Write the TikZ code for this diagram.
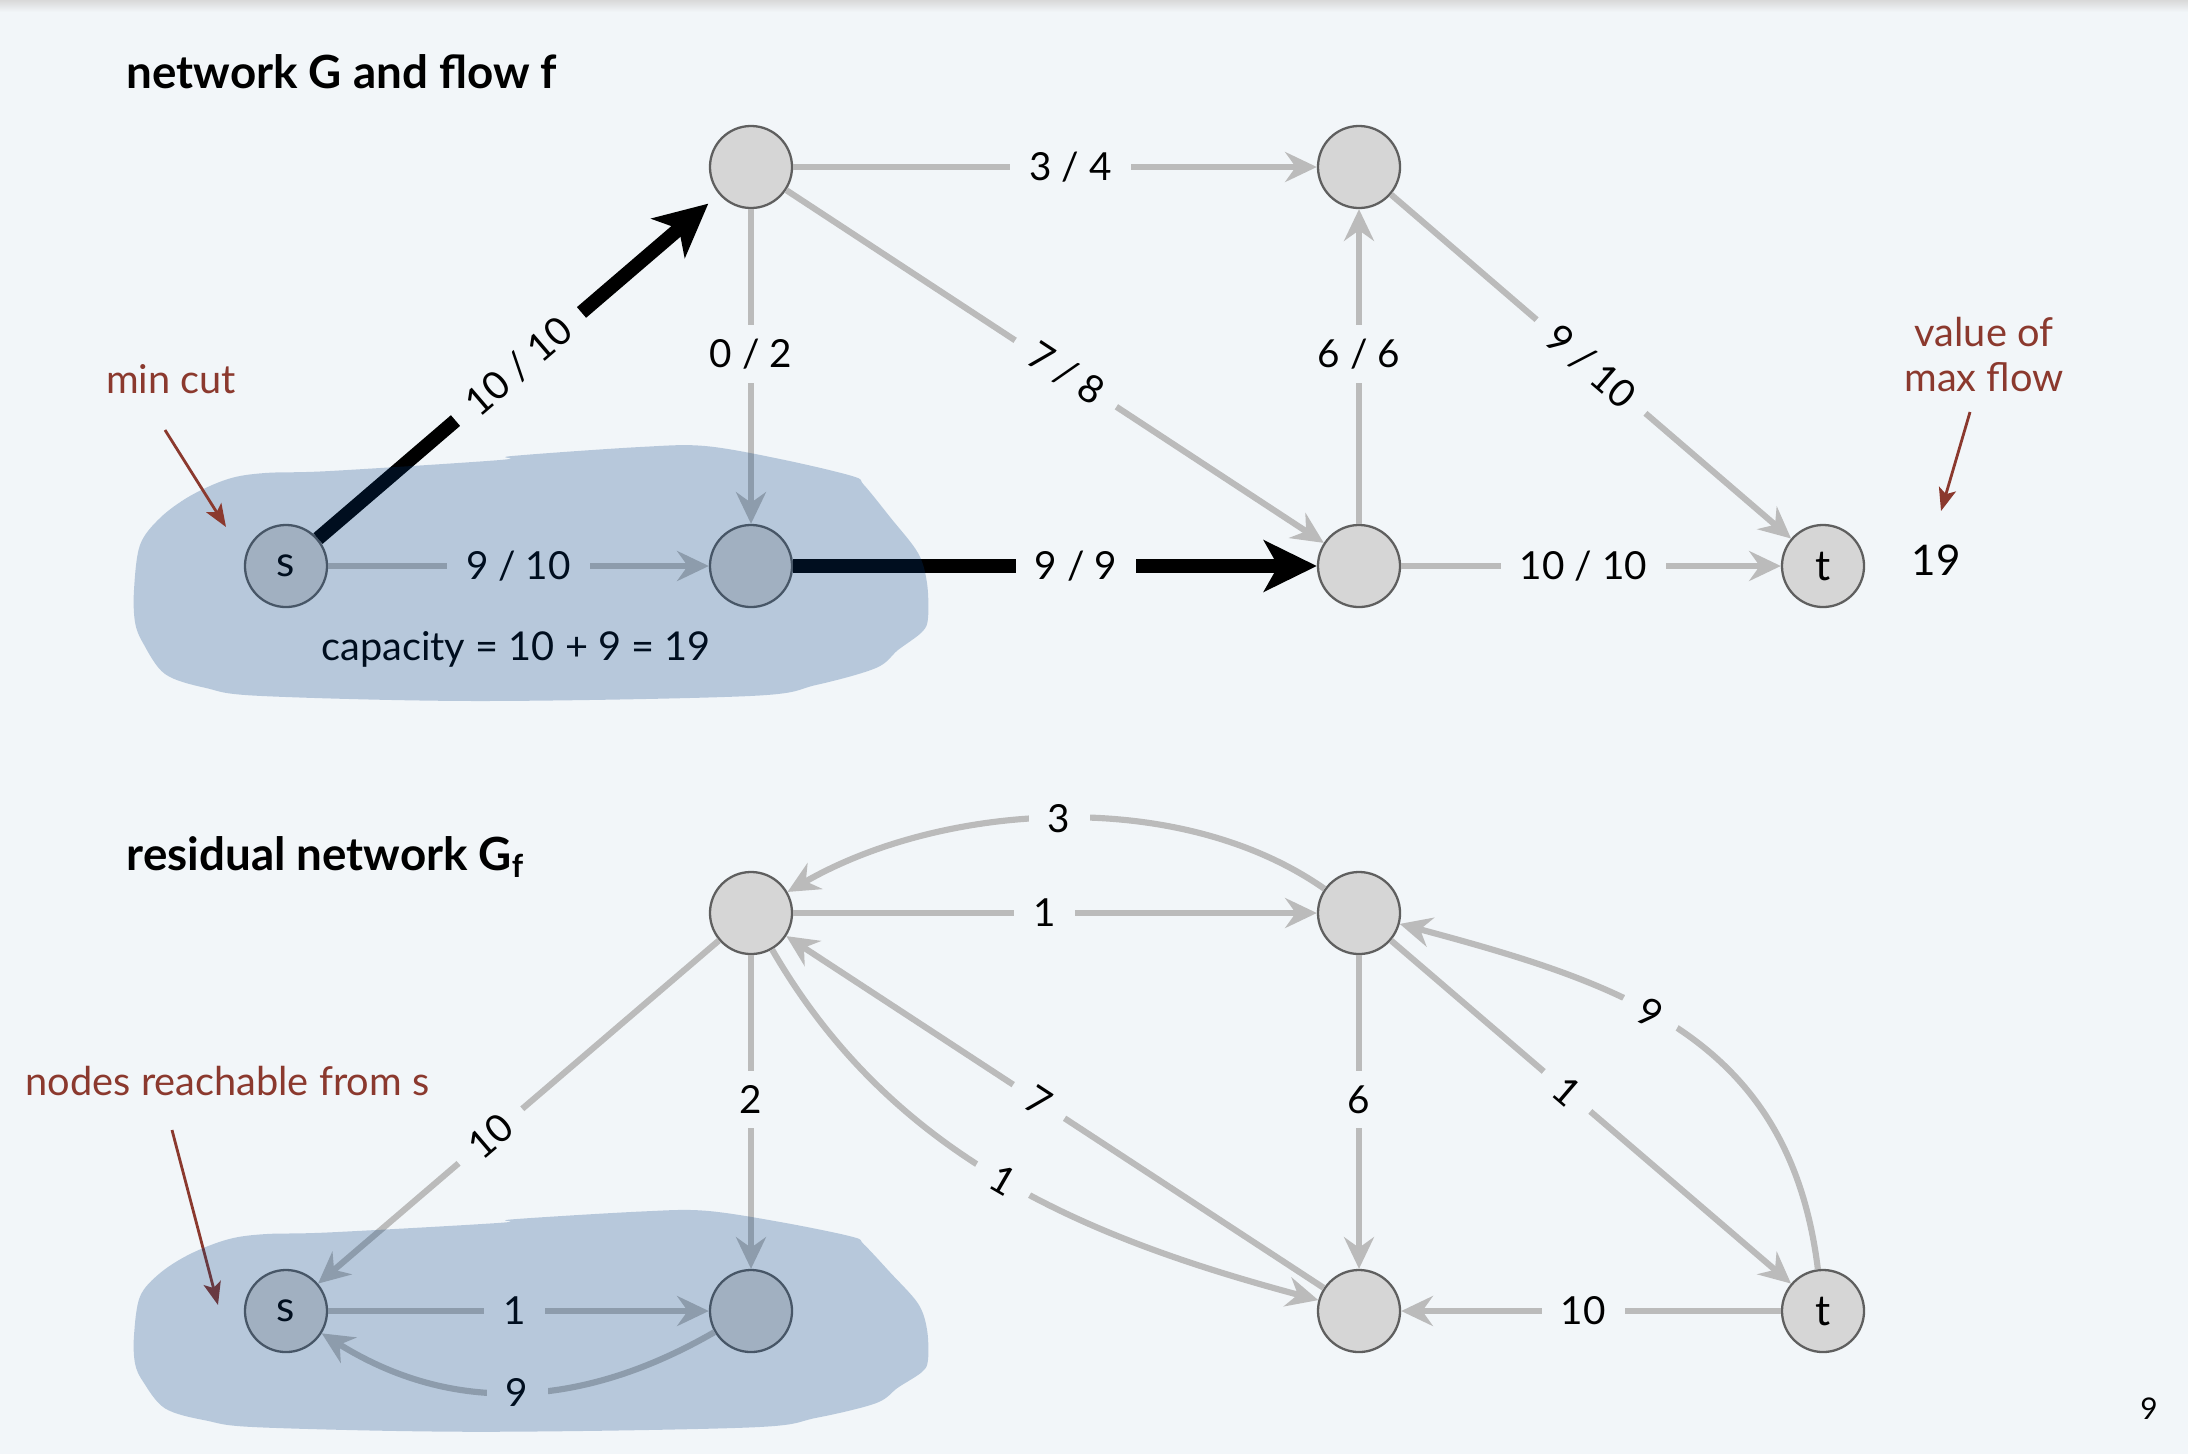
\documentclass[tikz,border=0pt]{standalone}
\usepackage{fontspec}
\setmainfont{Lato}
\usetikzlibrary{arrows.meta}
\definecolor{bgcol}{RGB}{242,246,249}
\definecolor{edgegray}{RGB}{187,187,187}
\definecolor{nodefill}{RGB}{214,214,214}
\definecolor{nodeline}{RGB}{95,95,95}
\definecolor{notered}{RGB}{139,57,46}
\definecolor{cutblue}{RGB}{0,60,128}

\begin{document}
\begin{tikzpicture}[x=0.01cm,y=0.01cm,
  vtx/.style={circle,draw=nodeline,fill=nodefill,line width=0.65pt,minimum size=0.82cm,inner sep=0pt,font=\fontsize{12}{14}\selectfont},
  grayedge/.style={draw=edgegray,line width=1.75pt,-{Stealth[length=9pt,width=8.5pt,inset=3pt]}},
  flowedge/.style={draw=black,line width=4pt,-{Stealth[length=15pt,width=14.5pt,inset=4pt]}},
  lbl/.style={fill=bgcol,inner xsep=5.5pt,inner ysep=4pt,font=\fontsize{11}{13}\selectfont},
  note/.style={text=notered,inner sep=0pt,font=\fontsize{11.3}{12.8}\selectfont},
  pointer/.style={draw=notered,line width=0.8pt,-{Stealth[length=6.5pt,width=5pt,inset=1.5pt]}},
  title/.style={anchor=base west,inner sep=0pt,font=\bfseries\fontsize{13}{15}\selectfont}]
\useasboundingbox (0,0) rectangle (2188,-1454);
\fill[bgcol] (0,0) rectangle (2188,-1454);
\shade[top color=black!15,bottom color=bgcol] (0,0) rectangle (2188,-12);

% network G and flow f
\node[title] (ttop) at (126,-88) {network G and flow f};
\node[vtx] (n0) at (286,-566) {s};
\node[vtx] (n1) at (751,-167) {};
\node[vtx] (n2) at (751,-566) {};
\node[vtx] (n3) at (1359,-167) {};
\node[vtx] (n4) at (1359,-566) {};
\node[vtx] (n5) at (1823,-566) {t};

\draw[grayedge] (n0) -- node[lbl,pos=0.5] {9 / 10} (n2);
\draw[grayedge] (n1) -- node[lbl,pos=0.46] {0 / 2} (n2);
\draw[grayedge] (n1) -- node[lbl,pos=0.53] {3 / 4} (n3);
\draw[grayedge] (n1) -- node[lbl,sloped,pos=0.52] {7 / 8} (n4);
\draw[grayedge] (n4) -- node[lbl,pos=0.54] {6 / 6} (n3);
\draw[grayedge] (n3) -- node[lbl,sloped,pos=0.5] {9 / 10} (n5);
\draw[grayedge] (n4) -- node[lbl,pos=0.48] {10 / 10} (n5);
\draw[flowedge,shorten >=4pt] (n0) -- node[lbl,sloped,pos=0.5] {10 / 10} (n1);
\draw[flowedge] (n2) -- node[lbl,pos=0.54] {9 / 9} (n4);

\node[anchor=base,font=\fontsize{11.3}{13}\selectfont] (cap) at (516,-660) {capacity = 10 + 9 = 19};

% min cut
\fill[cutblue,opacity=0.245] plot[smooth cycle,tension=0.55] coordinates {(134,-590) (140,-545) (160,-518) (190,-496) (228,-479) (265,-473) (330,-471) (500,-460) (512,-456) (640,-447) (705,-446) (780,-459) (852,-476) (864,-485) (890,-517) (918,-553) (927,-583) (928,-618) (922,-632) (898,-650) (876,-668) (816,-685) (750,-696) (480,-701) (262,-696) (206,-688) (165,-674) (143,-643) (135,-622)};

\node[note,anchor=base] (mincut) at (171,-393) {min cut};
\coordinate (cuttail) at (165,-430);
\coordinate (cuthead) at (226,-527);
\draw[pointer] (cuttail) -- (cuthead);

\node[note,align=center] (maxnote) at (1984,-355) {value of\\max flow};
\coordinate (maxtail) at (1970,-412);
\coordinate (maxhead) at (1941,-511);
\draw[pointer] (maxtail) -- (maxhead);
\node[anchor=base,font=\fontsize{12}{14}\selectfont] (maxval) at (1936,-575) {19};

% residual network
\node[title] (tres) at (126,-870) {residual network G\raisebox{-0.3ex}{\fontsize{9}{10}\selectfont f}};
\node[vtx] (r0) at (286,-1311) {s};
\node[vtx] (r1) at (751,-913) {};
\node[vtx] (r2) at (751,-1311) {};
\node[vtx] (r3) at (1359,-913) {};
\node[vtx] (r4) at (1359,-1311) {};
\node[vtx] (r5) at (1823,-1311) {t};

\draw[grayedge] (r0) -- node[lbl,pos=0.49] {1} (r2);
\draw[grayedge] (r2) to[out=-150,in=-32] node[lbl,pos=0.5] {9} (r0);
\draw[grayedge] (r1) -- node[lbl,sloped,pos=0.57] {10} (r0);
\draw[grayedge] (r1) -- node[lbl,pos=0.46] {2} (r2);
\draw[grayedge] (r1) -- node[lbl,pos=0.48] {1} (r3);
\draw[grayedge] (r3) to[out=145,in=30,looseness=0.85] node[lbl,pos=0.5] {3} (r1);
\draw[grayedge] (r1) to[out=-60,in=165,looseness=0.95] node[lbl,sloped,pos=0.5] {1} (r4);
\draw[grayedge] (r4) -- node[lbl,sloped,pos=0.53] {7} (r1);
\draw[grayedge] (r3) -- node[lbl,pos=0.46] {6} (r4);
\draw[grayedge] (r3) -- node[lbl,sloped,pos=0.44] {1} (r5);
\draw[grayedge] (r5) to[out=97,in=-15,looseness=1.1] node[lbl,sloped,pos=0.57] {9} (r3);
\draw[grayedge] (r5) -- node[lbl,pos=0.52] {10} (r4);

\node[note,anchor=base west] (reach) at (25,-1095) {nodes reachable from s};
\coordinate (reachtail) at (172,-1130);
\coordinate (reachhead) at (218,-1305);
\draw[pointer] (reachtail) -- (reachhead);

% nodes reachable from s
\begin{scope}[shift={(0,-824)},yscale=0.867]
\fill[cutblue,opacity=0.245] plot[smooth cycle,tension=0.55] coordinates {(134,-590) (140,-545) (160,-518) (190,-496) (228,-479) (265,-473) (330,-471) (500,-460) (512,-456) (640,-447) (705,-446) (780,-459) (852,-476) (864,-485) (890,-517) (918,-553) (927,-583) (928,-618) (922,-632) (898,-650) (876,-668) (816,-685) (750,-696) (480,-701) (262,-696) (206,-688) (165,-674) (143,-643) (135,-622)};
\end{scope}

\node[anchor=base,font=\fontsize{8.5}{10}\selectfont] (pagenum) at (2149,-1419) {9};
\end{tikzpicture}
\end{document}
